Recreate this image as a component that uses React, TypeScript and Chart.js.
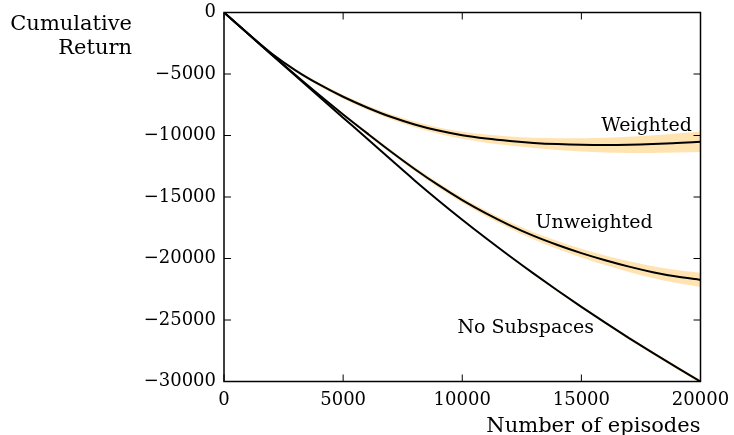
import React, { useEffect, useRef } from "react";
import { Chart, registerables } from "chart.js";

Chart.register(...registerables);

const episodes = [0, 1000, 2000, 3000, 4000, 5000, 6000, 7000, 8000, 9000, 10000, 11000, 12000, 13000, 14000, 15000, 16000, 17000, 18000, 19000, 20000];

const weightedMean = [0, -1700, -3330, -4700, -5850, -6850, -7720, -8480, -9100, -9600, -9980, -10250, -10450, -10600, -10700, -10760, -10780, -10760, -10700, -10610, -10510];
const weightedStd = [0, 40, 80, 110, 140, 160, 180, 200, 230, 260, 290, 330, 370, 420, 480, 540, 600, 660, 720, 780, 830];

const unweightedMean = [0, -1710, -3410, -5080, -6710, -8290, -9810, -11300, -12720, -14040, -15250, -16330, -17300, -18160, -18900, -19560, -20140, -20660, -21110, -21470, -21740];
const unweightedStd = [0, 30, 50, 70, 90, 110, 130, 150, 170, 190, 210, 235, 260, 290, 320, 350, 390, 430, 480, 530, 580];

const noSubMean = [0, -1715, -3430, -5140, -6850, -8550, -10240, -11960, -13650, -15280, -16850, -18360, -19820, -21230, -22600, -23930, -25220, -26470, -27680, -28860, -30000];
const noSubStd = [0, 10, 15, 20, 25, 30, 35, 40, 50, 55, 60, 70, 75, 85, 90, 100, 105, 115, 120, 130, 140];

const xTicks = [0, 5000, 10000, 15000, 20000];
const yTicks = [0, -5000, -10000, -15000, -20000, -25000, -30000];

const seriesNames = ["Weighted", "Unweighted", "No Subspaces"];
const nameX = [15830, 13070, 9800];
const nameY = [-9610, -17545, -26030];

const xTitle = "Number of episodes";
const yTitle = ["Cumulative", "Return"];

const SERIF = "'DejaVu Serif', serif";
const BAND = "rgba(255,165,0,0.3)";

function pts(mean: number[], off: number[], sign: number) {
  return episodes.map((x, i) => ({ x, y: mean[i] + sign * off[i] }));
}

function fmt(v: number) {
  return v < 0 ? "\u2212" + String(-v) : String(v);
}

const decor = {
  id: "decor",
  afterDraw(chart: any) {
    const { ctx, chartArea: a, scales } = chart;
    const x = scales.x;
    const y = scales.y;
    ctx.save();
    ctx.strokeStyle = "#000";
    ctx.lineWidth = 1;
    const L = 7;
    const seg = (x1: number, y1: number, x2: number, y2: number) => {
      ctx.beginPath();
      ctx.moveTo(x1, y1);
      ctx.lineTo(x2, y2);
      ctx.stroke();
    };
    xTicks.forEach((v) => {
      const p = x.getPixelForValue(v);
      seg(p, a.bottom, p, a.bottom - L);
      seg(p, a.top, p, a.top + L);
    });
    yTicks.forEach((v) => {
      const p = y.getPixelForValue(v);
      seg(a.left, p, a.left + L, p);
      seg(a.right, p, a.right - L, p);
    });
    ctx.lineWidth = 1.5;
    ctx.strokeRect(a.left, a.top, a.right - a.left, a.bottom - a.top);

    ctx.fillStyle = "#000";
    ctx.textBaseline = "alphabetic";
    ctx.textAlign = "left";
    ctx.font = "19px " + SERIF;
    seriesNames.forEach((s, i) => {
      ctx.fillText(s, x.getPixelForValue(nameX[i]), y.getPixelForValue(nameY[i]));
    });
    ctx.font = "21px " + SERIF;
    ctx.textAlign = "right";
    ctx.fillText(xTitle, a.right, a.bottom + 50);
    ctx.fillText(yTitle[0], 132, 29.5);
    ctx.fillText(yTitle[1], 132, 54);
    ctx.restore();
  },
};

export default function App() {
  const ref = useRef<HTMLCanvasElement | null>(null);
  useEffect(() => {
    if (!ref.current) return;
    const bandDs = (mean: number[], std: number[]) => [
      {
        data: pts(mean, std, 1),
        borderWidth: 0,
        pointRadius: 0,
        backgroundColor: BAND,
        fill: "+1",
        cubicInterpolationMode: "monotone",
      },
      {
        data: pts(mean, std, -1),
        borderWidth: 0,
        pointRadius: 0,
        backgroundColor: BAND,
        fill: false,
        cubicInterpolationMode: "monotone",
      },
    ];
    const lineDs = (mean: number[], label: string) => ({
      label,
      data: pts(mean, mean.map(() => 0), 1),
      borderColor: "#000",
      borderWidth: 2,
      pointRadius: 0,
      fill: false,
      cubicInterpolationMode: "monotone",
    });
    const zeroPad = (s: any) => {
      s.paddingTop = 0;
      s.paddingBottom = 0;
      s.paddingLeft = 0;
      s.paddingRight = 0;
    };
    const chart = new Chart(ref.current, {
      type: "line",
      data: {
        datasets: [
          lineDs(weightedMean, seriesNames[0]),
          lineDs(unweightedMean, seriesNames[1]),
          lineDs(noSubMean, seriesNames[2]),
          ...bandDs(weightedMean, weightedStd),
          ...bandDs(unweightedMean, unweightedStd),
          ...bandDs(noSubMean, noSubStd),
        ] as any,
      },
      options: {
        animation: false,
        responsive: false,
        events: [],
        layout: { padding: { top: 12.5, right: 33.5, left: 0, bottom: 0 } },
        plugins: {
          legend: { display: false },
          tooltip: { enabled: false },
          filler: { drawTime: "beforeDatasetsDraw" },
        } as any,
        scales: {
          x: {
            type: "linear",
            min: 0,
            max: 20000,
            grid: { display: false, drawTicks: false },
            border: { display: false },
            afterBuildTicks: (s: any) => {
              s.ticks = xTicks.map((v) => ({ value: v }));
            },
            afterFit: (s: any) => {
              s.height = 53.5;
              zeroPad(s);
            },
            ticks: {
              color: "#000",
              font: { family: SERIF, size: 18 },
              padding: 8,
              maxRotation: 0,
              callback: (v: any) => fmt(Number(v)),
            },
          },
          y: {
            type: "linear",
            min: -30000,
            max: 0,
            grid: { display: false, drawTicks: false },
            border: { display: false },
            afterBuildTicks: (s: any) => {
              s.ticks = yTicks.map((v) => ({ value: v }));
            },
            afterFit: (s: any) => {
              s.width = 224;
              zeroPad(s);
            },
            ticks: {
              color: "#000",
              font: { family: SERIF, size: 18 },
              padding: 8,
              callback: (v: any) => fmt(Number(v)),
            },
          },
        },
      },
      plugins: [decor],
    });
    return () => chart.destroy();
  }, []);
  return (
    <div style={{ position: "absolute", left: 0, top: 0, width: 734, height: 435, background: "#fff" }}>
      <canvas ref={ref} width={734} height={435} />
    </div>
  );
}
